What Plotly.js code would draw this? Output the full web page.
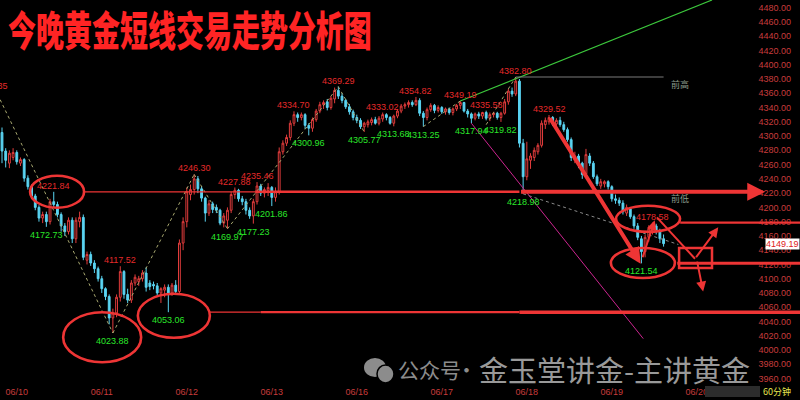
<!DOCTYPE html>
<html><head><meta charset="utf-8">
<script src="https://cdn.plot.ly/plotly-3.0.1.min.js"></script>
<style>html,body{margin:0;padding:0;background:#000;}#chart{width:800px;height:400px;}</style>
</head><body><div id="chart"></div>
<script>
// ---------- data ----------
const dayLabels   = ['06/10','06/11','06/12','06/13','06/16','06/17','06/18','06/19','06/20'];
const dayStartIdx = [4,27,50,73,96,119,142,165,188];

const openP = [4305,4279,4262,4270,4277,4262,4267,4241,4229,4216,
4200,4185,4190,4180,4208,4204,4190,4174,4166,4182,
4156,4180,4186,4126,4134,4122,4114,4100,4086,4075,
4045,4052,4074,4110,4078,4070,4094,4096,4100,4108,
4094,4092,4090,4080,4084,4088,4080,4091,4082,4150,
4180,4218,4225,4240,4226,4213,4192,4205,4200,4196,
4178,4182,4196,4218,4224,4212,4208,4196,4188,4208,
4230,4220,4224,4228,4214,4222,4278,4290,4298,4318,
4330,4326,4330,4315,4311,4323,4335,4344,4348,4340,
4352,4364,4356,4350,4341,4334,4326,4322,4313,4316,
4319,4323,4318,4324,4330,4326,4318,4328,4335,4342,
4344,4347,4344,4350,4332,4326,4337,4343,4336,4340,
4334,4338,4333,4338,4343,4347,4335,4331,4325,4331,
4328,4333,4325,4330,4332,4326,4332,4348,4363,4359,
4377,4290,4243,4266,4270,4278,4287,4316,4320,4326,
4317,4322,4316,4309,4295,4266,4272,4262,4247,4272,
4262,4243,4230,4233,4236,4229,4212,4210,4206,4192,
4198,4187,4174,4156,4138,4158,4168,4174,4166,4156];
const highP = [4312,4283,4280,4283,4280,4270,4269,4245,4232,4219,
4203,4194,4194,4212,4221.84,4208,4193,4178,4186,4186,
4186,4194,4190,4138,4138,4126,4117,4104,4088,4078,
4058,4078,4117.52,4112,4086,4098,4106,4104,4112,4116,
4098,4096,4094,4088,4092,4092,4094,4098,4155,4186,
4228,4232,4246.30,4244,4230,4215,4210,4208,4204,4198,
4192,4200,4222,4227.88,4226,4216,4212,4200,4212,4235.46,
4233,4228,4234,4230,4228,4284,4294,4302,4322,4334.70,
4333,4333,4332,4318,4326,4338,4348,4350,4352,4356,
4368,4369.29,4360,4352,4345,4337,4330,4325,4320,4323,
4326,4327,4328,4333.02,4332,4328,4330,4338,4345,4347,
4350,4350,4354.82,4353,4335,4340,4346,4345,4343,4342,
4340,4340,4340,4345,4349.19,4348,4338,4333,4333,4334,
4334,4335.58,4333,4334,4334,4334,4352,4366,4368,4382.80,
4380,4296,4292,4276,4284,4290,4322,4326,4329.52,4328,
4325,4327,4320,4312,4298,4278,4275,4264,4282,4276,
4265,4246,4240,4238,4238,4231,4218,4214,4210,4204,
4199,4190,4178,4160,4162,4175,4178.58,4177,4170,4162];
const lowP = [4262,4256,4255,4266,4260,4258,4236,4225,4212,4196,
4180,4178,4172.73,4176,4200,4186,4166,4160,4162,4150,
4150,4172,4126,4120,4118,4108,4096,4080,4070,4036,
4023.88,4046,4068,4072,4066,4066,4090,4090,4096,4082,
4084,4085,4076,4066,4074,4053.06,4076,4078,4078,4140,
4172,4210,4218,4220,4208,4180,4188,4192,4192,4175,
4172,4169.97,4192,4212,4208,4203,4190,4184,4177.23,4204,
4216,4214,4216,4201.86,4208,4218,4274,4286,4294,4314,
4320,4322,4310,4300.96,4306,4320,4332,4338,4336,4337,
4346,4352,4346,4338,4330,4322,4318,4310,4305.77,4312,
4315,4316,4315,4320,4322,4316,4313.68,4325,4332,4338,
4340,4341,4342,4328,4313.25,4322,4334,4332,4333,4331,
4330,4330,4329,4335,4338,4333,4326,4317.94,4322,4324,
4324,4322,4321,4326,4323,4319.82,4330,4344,4355,4356,
4284,4218.98,4238,4254,4265,4274,4284,4310,4316,4314,
4313,4313,4306,4292,4265,4262,4255,4240,4245,4258,
4240,4230,4226,4228,4225,4208,4205,4202,4190,4188,
4184,4170,4154,4121.54,4130,4152,4162,4162,4150,4145];
const closeP = [4279,4266,4276,4277,4264,4267,4241,4229,4216,4200,
4185,4190,4180,4208,4204,4190,4174,4166,4182,4156,
4182,4186,4130,4134,4122,4114,4100,4086,4075,4045,
4052,4074,4110,4078,4070,4094,4102,4100,4108,4088,
4089,4090,4080,4086,4088,4080,4091,4082,4150,4180,
4222,4225,4240,4226,4213,4192,4205,4197,4196,4178,
4188,4196,4218,4224,4212,4208,4196,4188,4208,4230,
4220,4225,4228,4214,4222,4278,4290,4298,4318,4330,
4326,4330,4315,4311,4323,4335,4344,4347,4340,4353,
4364,4356,4350,4341,4334,4326,4322,4313,4318,4320,
4323,4318,4325,4330,4326,4318,4328,4335,4342,4344,
4347,4344,4350,4332,4326,4337,4343,4336,4340,4334,
4338,4333,4338,4343,4347,4335,4331,4325,4331,4328,
4333,4325,4330,4332,4326,4332,4348,4363,4359,4377,
4290,4243,4268,4272,4280,4287,4318,4322,4326,4317,
4322,4316,4309,4295,4270,4272,4262,4246,4274,4262,
4243,4233,4236,4236,4229,4212,4210,4206,4194,4200,
4187,4174,4158,4138,4158,4170,4174,4166,4156,4149.19];

const swingHighIdx = [14,32,52,63,69,79,91,103,112,124,131,139,148,176];
const swingLowIdx  = [12,30,45,61,68,73,83,98,106,114,127,135,141,173];
const lastPrice = 4149.19;

// analysis drawings, [index, price] pairs
const zigzagLines = [
  [[-0.5,4351],[30,4023.88]],
  [[30,4023.88],[52,4246.30]],
  [[52,4246.30],[61,4169.97]],
  [[61,4169.97],[91,4369.29]],
  [[91,4369.29],[98,4305.77]],
  [[114,4313.25],[124,4349.19]],
  [[131,4316],[139,4382.80]]
];
const greyDotLine = [[141,4218.98],[183,4148]];
const magentaLine = [[127,4317.94],[173.5,4016]];
const greenLine = [[124,4349.19],[192.1,4490.75]];
const prevHigh = 4382.80, prevLow = 4221.84, supportLow = 4053.06;
const levelA = 4178.58, levelB = 4121.54;

// ---------- chart ----------
const FONT = 'Arial, "Liberation Sans", sans-serif';
const CJK = '"Noto Sans CJK SC", sans-serif';
const RED = '#ee3535';
const idx = openP.map((_, i) => i);
const PX = x => x / 800;
const PY = y => 1 - y / 380;

const trace = {
  type: 'candlestick', x: idx, open: openP, high: highP, low: lowP, close: closeP,
  increasing: {line: {color: '#e23c3c', width: 1}, fillcolor: '#000000'},
  decreasing: {line: {color: '#5ad4f2', width: 1}, fillcolor: '#5ad4f2'},
  whiskerwidth: 0, hoverinfo: 'skip', showlegend: false
};

const shapes = [];
const annotations = [];
const line = (x0, y0, x1, y1, color, width, dash) => shapes.push({type: 'line', xref: 'x', yref: 'y', x0, y0, x1, y1, line: {color, width, dash: dash || 'solid'}});
const arrow = (tx, ty, fx, fy, width, size) => annotations.push({x: tx, y: ty, ax: fx, ay: fy, xref: 'x', yref: 'y', axref: 'x', ayref: 'y', text: '', showarrow: true, arrowhead: 2, arrowsize: size, arrowwidth: width, arrowcolor: RED, standoff: 0, startstandoff: 0});
const ellipse = (cx, cy, rx, ry) => shapes.push({type: 'circle', xref: 'x', yref: 'y', xsizemode: 'pixel', ysizemode: 'pixel', xanchor: cx, yanchor: cy, x0: -rx, x1: rx, y0: -ry, y1: ry, line: {color: RED, width: 2.6}});

zigzagLines.forEach(s => line(s[0][0], s[0][1], s[1][0], s[1][1], '#a8a870', 1, 'dot'));
line(greyDotLine[0][0], greyDotLine[0][1], greyDotLine[1][0], greyDotLine[1][1], '#8a8a8a', 1, 'dot');
line(magentaLine[0][0], magentaLine[0][1], magentaLine[1][0], magentaLine[1][1], '#cc2590', 1);
line(greenLine[0][0], greenLine[0][1], greenLine[1][0], greenLine[1][1], '#3cc83c', 1.2);
line(139, prevHigh, 179, prevHigh, '#7a7a7a', 1);

// red horizontal levels
line(22.2, prevLow, 68.5, prevLow, RED, 1.2);
line(68.5, prevLow, 140, prevLow, RED, 2.5);
arrow(206.5, prevLow, 140, prevLow, 4, 0.9);
line(56, supportLow, 70, supportLow, RED, 1.2);
line(70, supportLow, 140, supportLow, RED, 2.2);
line(140, supportLow, 216, supportLow, RED, 3.5);
line(183.5, levelA, 216, levelA, RED, 2.2);
line(182.7, levelB, 216, levelB, RED, 3);
shapes.push({type: 'rect', xref: 'x', yref: 'y', x0: 183.2, x1: 192.1, y0: 4115, y1: 4143, line: {color: RED, width: 2.5}});

ellipse(14.9, 4222, 27, 16);
ellipse(27.1, 4018, 39, 25);
ellipse(46.5, 4048, 36, 22);
ellipse(173.4, 4122, 32, 15);
ellipse(174.8, 4184, 32, 13);

arrow(172.8, 4121, 148, 4327, 4, 0.8);
arrow(176.6, 4182, 173.2, 4128, 2, 1);
line(177.2, 4186, 187.5, 4128, RED, 2);
arrow(193.8, 4172, 187.5, 4128, 2, 1);
arrow(189.7, 4082, 188, 4126, 2, 1);

swingHighIdx.forEach(i => annotations.push({x: i, y: highP[i], xref: 'x', yref: 'y', text: highP[i].toFixed(2), showarrow: false, yanchor: 'bottom', yshift: -1, font: {family: FONT, size: 9, color: '#e62a2a'}}));
swingLowIdx.forEach(i => annotations.push({x: i, y: lowP[i], xref: 'x', yref: 'y', text: lowP[i].toFixed(2), showarrow: false, yanchor: 'top', yshift: -1, font: {family: FONT, size: 9, color: '#2ae62a'}}));
annotations.push({xref: 'paper', yref: 'y', x: 0, y: 4370, xanchor: 'right', xshift: 10, text: '4367.35', showarrow: false, font: {family: FONT, size: 9, color: '#e62a2a'}});

annotations.push({x: 183.5, y: prevHigh, xref: 'x', yref: 'y', yanchor: 'top', yshift: 1, text: '前高', showarrow: false, font: {family: CJK, size: 9, color: '#8a9a8a'}});
annotations.push({x: 183.5, y: prevLow, xref: 'x', yref: 'y', yanchor: 'top', yshift: 2, text: '前低', showarrow: false, font: {family: CJK, size: 9, color: '#8a9a8a'}});

annotations.push({xref: 'paper', yref: 'y', x: 1, y: lastPrice, xanchor: 'right', text: lastPrice.toFixed(2), showarrow: false, bgcolor: '#ffffff', borderpad: 0, font: {family: FONT, size: 9, color: '#e02020'}});

// watermark
const wmGrey = '#8c8c8c';
shapes.push({type: 'circle', xref: 'paper', yref: 'paper', x0: PX(364), x1: PX(386), y0: PY(377), y1: PY(358), fillcolor: wmGrey, line: {width: 0}});
shapes.push({type: 'circle', xref: 'paper', yref: 'paper', x0: PX(377), x1: PX(394), y0: PY(383), y1: PY(365), fillcolor: wmGrey, line: {color: '#000', width: 1.5}});
annotations.push({xref: 'paper', yref: 'paper', x: PX(396), y: PY(369), xanchor: 'left', yanchor: 'middle', text: '公众号', showarrow: false, font: {family: CJK, size: 21, color: wmGrey}});
annotations.push({xref: 'paper', yref: 'paper', x: PX(466), y: PY(369), xanchor: 'center', yanchor: 'middle', text: '·', showarrow: false, font: {family: CJK, size: 21, color: wmGrey}});
annotations.push({xref: 'paper', yref: 'paper', x: PX(477), y: PY(369), xanchor: 'left', yanchor: 'middle', text: '金玉堂讲金-主讲黄金', showarrow: false, font: {family: CJK, size: 29, color: '#999999'}});

shapes.push({type: 'rect', xref: 'paper', yref: 'paper', x0: PX(705), x1: PX(760), y0: PY(397), y1: PY(386), fillcolor: '#2c2c2c', line: {width: 0}});
annotations.push({xref: 'paper', yref: 'paper', x: PX(777), y: PY(391.5), xanchor: 'center', yanchor: 'middle', text: '60分钟', showarrow: false, font: {family: CJK, size: 9, color: '#e6e650'}});

const layout = {
  width: 800, height: 400,
  margin: {l: 0, r: 0, t: 0, b: 20, pad: 0},
  paper_bgcolor: '#000', plot_bgcolor: '#000', showlegend: false,
  title: {text: '今晚黄金短线交易走势分析图', xref: 'container', yref: 'container', x: 0.01, xanchor: 'left', y: 0.96, yanchor: 'top',
          font: {family: CJK, size: 28, color: '#ff2424', weight: 900}},
  xaxis: {type: 'linear', range: [-0.541, 215.91], rangeslider: {visible: false}, showgrid: false, zeroline: false, showline: false, ticks: '',
          ticklabelstandoff: 5,
          tickmode: 'array', tickvals: dayStartIdx, ticktext: dayLabels, tickfont: {family: FONT, size: 9, color: '#c83c3c'}, fixedrange: true},
  yaxis: {side: 'right', range: [3958.0, 4490.75], tick0: 3960, dtick: 20, tickformat: '.2f', ticklabelposition: 'inside', ticklabeloverflow: 'allow',
          ticklabelstandoff: 6, showgrid: false, zeroline: false, showline: false, ticks: '', tickfont: {family: FONT, size: 9, color: '#c83c3c'}, fixedrange: true},
  shapes, annotations
};

Plotly.newPlot('chart', [trace], layout, {displayModeBar: false, staticPlot: true}).then(gd => {
  // stretch the title vertically like the reference's tall headline
  const t = gd.querySelector('.gtitle');
  if (t) {
    const by = parseFloat(t.getAttribute('y')) || 30;
    t.setAttribute('transform', 'translate(0,18) scale(1,1.45) translate(0,' + (-by) + ')');
  }
});
</script></body></html>
